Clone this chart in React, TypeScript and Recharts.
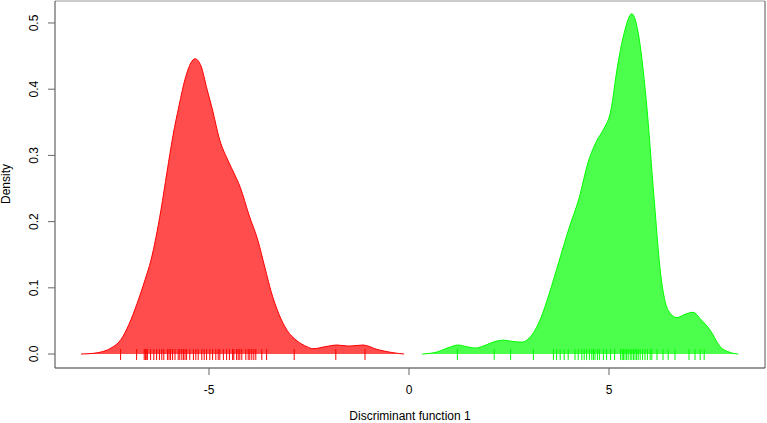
import { Area, ComposedChart, Label, ReferenceLine, Scatter, XAxis, YAxis } from "recharts";

// density estimates (x, density)
const redX = [-8.2, -7.9, -7.7, -7.45, -7.2, -7.0, -6.8, -6.6, -6.45, -6.33, -6.2, -6.05, -5.9, -5.75, -5.6, -5.45, -5.35, -5.2, -5.05, -4.93, -4.73, -4.53, -4.35, -4.22, -4.0, -3.78, -3.6, -3.45, -3.25, -3.05, -2.8, -2.55, -2.4, -2.1, -1.8, -1.5, -1.15, -0.8, -0.4, -0.12];
const redY = [0, 0.001, 0.003, 0.009, 0.022, 0.045, 0.076, 0.112, 0.142, 0.175, 0.218, 0.275, 0.33, 0.375, 0.415, 0.44, 0.446, 0.435, 0.4, 0.373, 0.323, 0.293, 0.27, 0.252, 0.21, 0.172, 0.13, 0.095, 0.06, 0.036, 0.02, 0.011, 0.008, 0.011, 0.0136, 0.012, 0.0136, 0.007, 0.002, 0];

const greenX = [0.33, 0.7, 1.0, 1.23, 1.45, 1.65, 1.9, 2.15, 2.35, 2.6, 2.83, 3.0, 3.15, 3.3, 3.5, 3.75, 4.0, 4.25, 4.48, 4.7, 4.85, 5.05, 5.2, 5.38, 5.57, 5.73, 5.93, 6.13, 6.28, 6.48, 6.7, 6.9, 7.1, 7.3, 7.53, 7.78, 8.0, 8.23];
const greenY = [0, 0.003, 0.01, 0.0136, 0.011, 0.009, 0.013, 0.019, 0.021, 0.019, 0.018, 0.024, 0.036, 0.055, 0.09, 0.14, 0.19, 0.235, 0.29, 0.323, 0.338, 0.369, 0.43, 0.485, 0.514, 0.485, 0.384, 0.233, 0.127, 0.066, 0.055, 0.06, 0.063, 0.052, 0.036, 0.011, 0.003, 0];

// rug positions
const redRug = [-7.21, -6.81, -6.62, -6.59, -6.57, -6.54, -6.46, -6.38, -6.31, -6.24, -6.18, -6.13, -6.04, -6.0, -5.96, -5.91, -5.85, -5.77, -5.73, -5.68, -5.64, -5.6, -5.56, -5.48, -5.39, -5.33, -5.27, -5.18, -5.12, -5.06, -4.98, -4.91, -4.83, -4.77, -4.73, -4.64, -4.56, -4.49, -4.41, -4.38, -4.31, -4.27, -4.23, -4.18, -4.08, -4.02, -3.98, -3.93, -3.88, -3.83, -3.68, -3.56, -2.87, -1.83, -1.1];
const greenRug = [1.21, 2.13, 2.54, 3.11, 3.61, 3.69, 3.78, 3.88, 3.98, 4.15, 4.23, 4.32, 4.38, 4.44, 4.51, 4.57, 4.61, 4.65, 4.71, 4.76, 4.86, 4.94, 5.04, 5.14, 5.29, 5.33, 5.36, 5.4, 5.44, 5.48, 5.53, 5.57, 5.61, 5.65, 5.69, 5.73, 5.78, 5.84, 5.9, 5.96, 6.03, 6.07, 6.2, 6.35, 6.48, 6.65, 7.0, 7.15, 7.28, 7.38];

const xTicks = [-5, 0, 5];
const yTicks = [0, 0.1, 0.2, 0.3, 0.4, 0.5];

const X_DOMAIN = [-8.85, 8.9];
const Y_DOMAIN = [-0.0211, 0.5332];
const FONT = "'Liberation Sans', Arial, sans-serif";

const chartData = [
  ...redX.map((x, i) => ({ x, red: redY[i] })),
  ...greenX.map((x, i) => ({ x, green: greenY[i] })),
];
const redRugData = redRug.map((x) => ({ x, y: 0 }));
const greenRugData = greenRug.map((x) => ({ x, y: 0 }));

const rugShape = (color: string) => (props: any) => {
  const { cx, cy } = props;
  return <line x1={cx} x2={cx} y1={cy - 5} y2={cy + 6} stroke={color} strokeWidth={1} />;
};

const XTick = (props: any) => {
  const { x, payload } = props;
  return (
    <text x={x} y={394} textAnchor="middle" fontFamily={FONT} fontSize={12} fill="#000">
      {payload.value}
    </text>
  );
};

const YTick = (props: any) => {
  const { y, payload } = props;
  return (
    <text x={38} y={y} transform={`rotate(-90, 38, ${y})`} textAnchor="middle" fontFamily={FONT} fontSize={12} fill="#000">
      {Number(payload.value).toFixed(1)}
    </text>
  );
};

const App = () => {
  return (
    <div style={{ position: "absolute", left: 0, top: 0, width: 767, height: 423, background: "#fff" }}>
      <ComposedChart width={767} height={423} data={chartData} margin={{ top: 1, right: 2, bottom: 0, left: 0 }}>
        <XAxis
          dataKey="x"
          type="number"
          domain={X_DOMAIN}
          allowDataOverflow
          ticks={xTicks}
          tick={<XTick />}
          tickSize={7}
          tickLine={{ stroke: "#666" }}
          axisLine={{ stroke: "#333" }}
          height={55}
        >
          <Label
            content={() => (
              <text x={410} y={420} textAnchor="middle" fontFamily={FONT} fontSize={12} fill="#000">
                Discriminant function 1
              </text>
            )}
          />
        </XAxis>
        <YAxis
          type="number"
          domain={Y_DOMAIN}
          allowDataOverflow
          ticks={yTicks}
          tick={<YTick />}
          tickSize={7}
          tickLine={{ stroke: "#666" }}
          axisLine={{ stroke: "#444" }}
          width={55}
        >
          <Label
            content={() => (
              <text x={10} y={184} transform="rotate(-90, 10, 184)" textAnchor="middle" fontFamily={FONT} fontSize={12} fill="#000">
                Density
              </text>
            )}
          />
        </YAxis>
        <ReferenceLine y={Y_DOMAIN[1]} stroke="#999" strokeWidth={1} />
        <ReferenceLine x={X_DOMAIN[1]} stroke="#555" strokeWidth={1} />
        <Area
          type="monotone"
          dataKey="red"
          baseValue={0}
          stroke="#ff0000"
          strokeWidth={1}
          fill="#ff0000"
          fillOpacity={0.7}
          isAnimationActive={false}
          dot={false}
          activeDot={false}
        />
        <Area
          type="monotone"
          dataKey="green"
          baseValue={0}
          stroke="#00ff00"
          strokeWidth={1}
          fill="#00ff00"
          fillOpacity={0.7}
          isAnimationActive={false}
          dot={false}
          activeDot={false}
        />
        <Scatter data={redRugData} dataKey="y" shape={rugShape("#ff0000")} isAnimationActive={false} />
        <Scatter data={greenRugData} dataKey="y" shape={rugShape("#00ff00")} isAnimationActive={false} />
      </ComposedChart>
    </div>
  );
};

export default App;
